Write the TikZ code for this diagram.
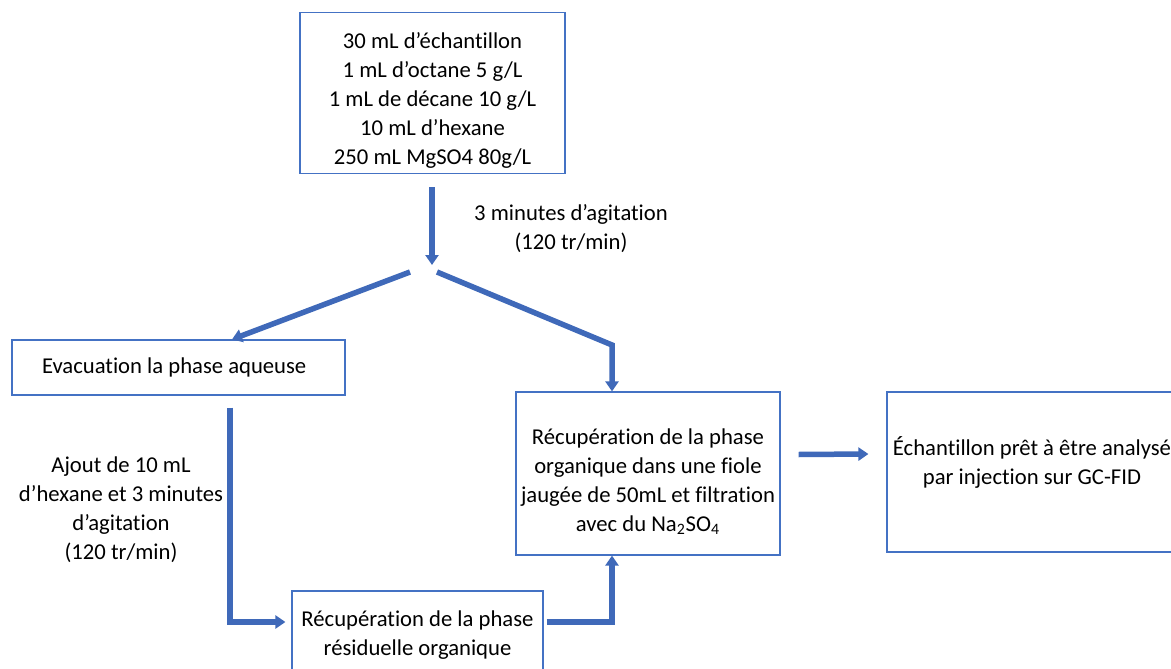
\documentclass[tikz,border=0pt]{standalone}
\usepackage{fontspec}
\setmainfont{Carlito}[Ligatures=NoCommon]
\usetikzlibrary{arrows.meta}
\definecolor{boxblue}{RGB}{68,114,196}
\definecolor{arrowblue}{RGB}{63,105,185}
\newcommand{\shifted}[2]{\raisebox{#1}[\height][\depth]{\begin{tabular}{@{}c@{}}#2\end{tabular}}}
\tikzset{
  stepbox/.style={draw=boxblue, line width=0.7pt, align=center, inner sep=0pt},
  flow/.style={arrowblue, line width=0.11cm,
               -{Triangle[length=0.2cm,width=0.26cm]}},
  note/.style={align=center}
}

\begin{document}
\begin{tikzpicture}[x=0.02cm, y=-0.02cm, font=\fontsize{12.9}{16.5}\selectfont]
    \useasboundingbox (0,0) rectangle (1171,669);

    \node[stepbox, minimum width=5.3cm, minimum height=3.22cm] (melange) at (432.5,93)
      {\shifted{-0.16cm}{30 mL d’échantillon\\1 mL d’octane 5 g/L\\1 mL de décane 10 g/L\\10 mL d’hexane\\250 mL MgSO4 80g/L}};
    \node[stepbox, minimum height=1.1cm, text width=5.46cm, inner xsep=0.6cm, align=flush left] (evac) at (178.5,367.5)
      {Evacuation la phase aqueuse};
    \node[stepbox, minimum width=5.28cm, minimum height=3.26cm] (recup) at (648,473.5)
      {\shifted{-0.18cm}{Récupération de la phase\\organique dans une fiole\\jaugée de 50mL et filtration\\avec du Na\textsubscript{2}SO\textsubscript{4}}};
    \node[stepbox, minimum width=5.8cm, minimum height=3.2cm] (final) at (1032,472)
      {\shifted{0.16cm}{Échantillon prêt à être analysé\\par injection sur GC-FID}};
    \node[stepbox, minimum width=5.02cm, minimum height=1.76cm] (resid) at (417.5,635)
      {Récupération de la phase\\résiduelle organique};

    \node[note] (agit) at (571,229) {3 minutes d’agitation\\(120 tr/min)};
    \node[note] (ajout) at (121,510) {Ajout de 10 mL\\d’hexane et 3 minutes\\d’agitation\\(120 tr/min)};

    \coordinate (split) at (432,265);
    \coordinate (splitL) at (410,272);
    \coordinate (splitR) at (437,272);
    \coordinate (bendR) at (612,345);

    \draw[flow] ([yshift=-0.26cm]melange.south -| split) -- (split);
    \draw[flow] (splitL) -- ([xshift=1.07cm]evac.north);
    \draw[flow] (splitR) -- (bendR) -- ([xshift=-0.72cm]recup.north);
    \draw[flow] ([xshift=0.36cm,yshift=0.38cm]recup.east) -- ([xshift=-0.36cm,yshift=0.36cm]final.west);
    \draw[flow] ([xshift=1.03cm,yshift=-0.24cm]evac.south) |- ([xshift=-0.12cm,yshift=0.26cm]resid.west);
    \draw[flow] ([xshift=0.06cm,yshift=0.26cm]resid.east) -| ([xshift=-0.72cm]recup.south);
\end{tikzpicture}
\end{document}
